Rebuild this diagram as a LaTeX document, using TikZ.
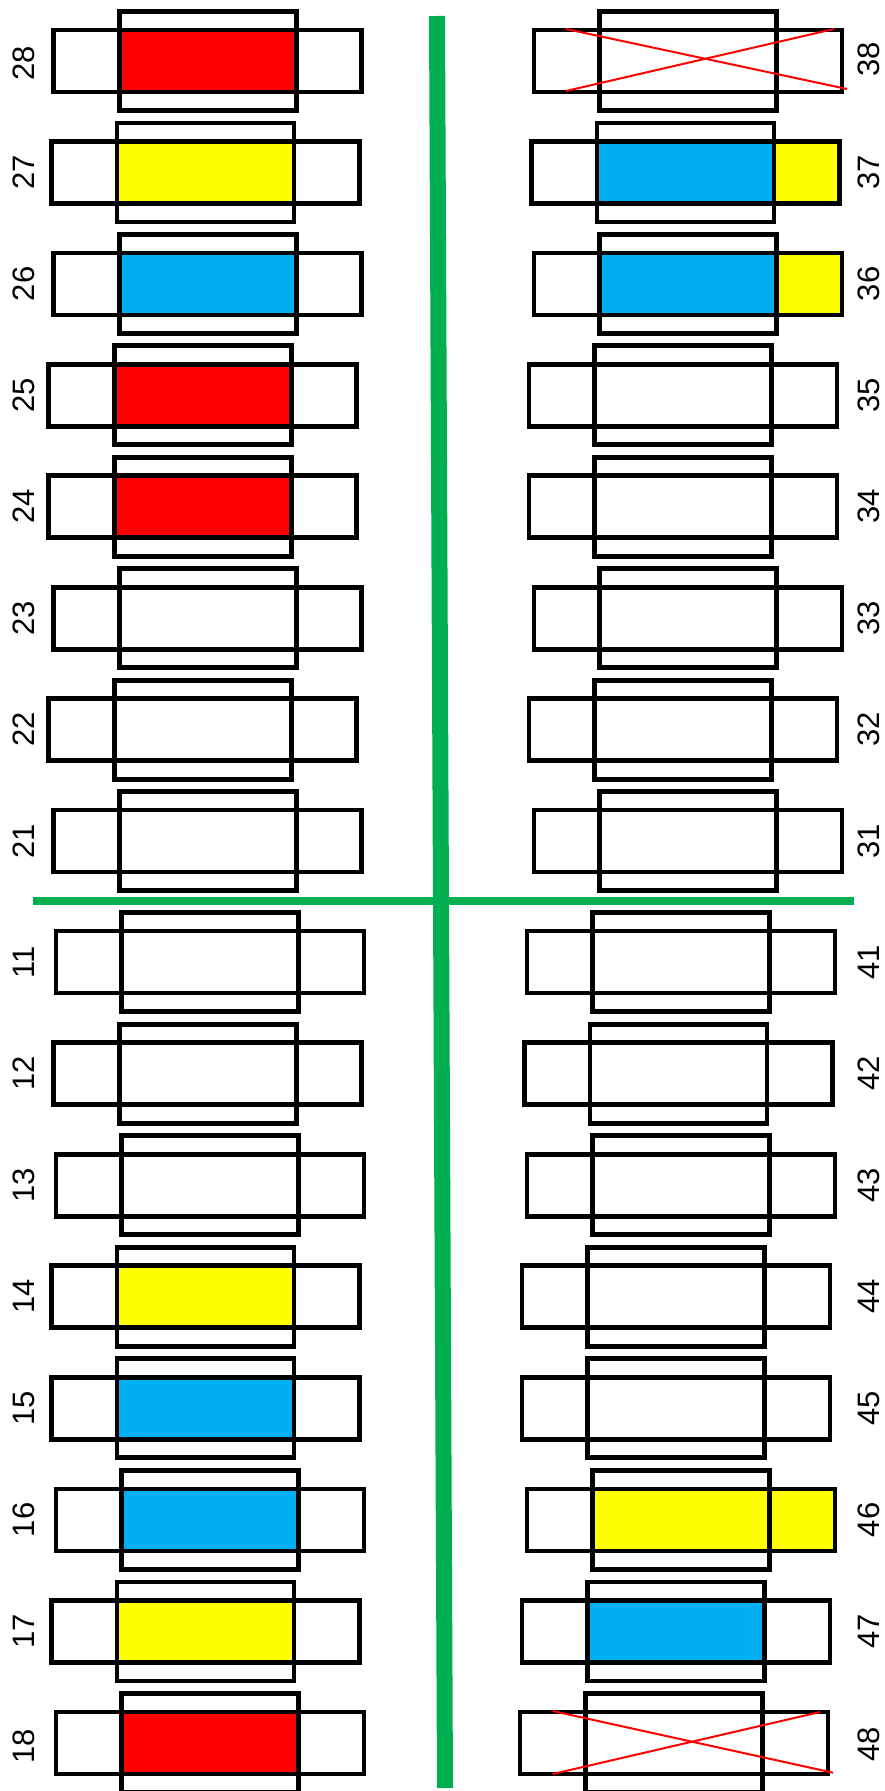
\documentclass[tikz,border=0pt]{standalone}
\usepackage{fontspec}
\setmainfont{Liberation Sans}
\definecolor{fusered}{HTML}{FF0000}
\definecolor{fuseyellow}{HTML}{FFFF00}
\definecolor{fuseblue}{HTML}{00B0F0}
\definecolor{railgreen}{HTML}{00B050}

\begin{document}
\begin{tikzpicture}[x=1pt,y=-1pt,line cap=butt,line join=miter,
  wing/.style={draw,line width=4.8pt,minimum width=308pt,minimum height=62pt,inner sep=0pt},
  body/.style={draw,line width=4.8pt,minimum width=177pt,minimum height=99pt,inner sep=0pt},
  core/.style={inner sep=0pt,minimum width=177pt,minimum height=62pt},
  tip/.style={inner sep=0pt,minimum width=65.5pt,minimum height=62pt,anchor=west},
  num/.style={rotate=90,inner sep=0pt,font=\fontsize{31}{36}\selectfont},
  cross/.style={draw=fusered,line width=2pt}]
\useasboundingbox (0,0) rectangle (884,1791);
% green rails
\coordinate (vtop) at (437,16);
\coordinate (vbot) at (445,1788);
\coordinate (hleft) at (33,901);
\coordinate (hright) at (854,901);
\draw[railgreen,line width=16pt] (vtop) -- (vbot);
\draw[railgreen,line width=8.3pt] (hleft) -- (hright);
% left, upper row
\node[core,fill=fusered] (c28) at (207.7,61) {};
\node[wing] (w28) at (c28) {};
\node[body] (b28) at (c28) {};
\node[num] (n28) at (23.5,63) {28};
\node[core,fill=fuseyellow] (c27) at (205.5,172.4) {};
\node[wing] (w27) at (c27) {};
\node[body] (b27) at (c27) {};
\node[num] (n27) at (23.5,172.4) {27};
\node[core,fill=fuseblue] (c26) at (207.7,283.9) {};
\node[wing] (w26) at (c26) {};
\node[body] (b26) at (c26) {};
\node[num] (n26) at (23.5,283.9) {26};
\node[core,fill=fusered] (c25) at (202.7,395.3) {};
\node[wing] (w25) at (c25) {};
\node[body] (b25) at (c25) {};
\node[num] (n25) at (23.5,395.3) {25};
\node[core,fill=fusered] (c24) at (202.7,506.7) {};
\node[wing] (w24) at (c24) {};
\node[body] (b24) at (c24) {};
\node[num] (n24) at (23.5,506.7) {24};
\node[wing] (w23) at (207.7,618.1) {};
\node[body] (b23) at (w23) {};
\node[num] (n23) at (23.5,618.1) {23};
\node[wing] (w22) at (202.7,729.6) {};
\node[body] (b22) at (w22) {};
\node[num] (n22) at (23.5,729.6) {22};
\node[wing] (w21) at (207.7,841) {};
\node[body] (b21) at (w21) {};
\node[num] (n21) at (23.5,841) {21};
% left, lower row
\node[wing] (w11) at (210,962) {};
\node[body] (b11) at (w11) {};
\node[num] (n11) at (23.5,962) {11};
\node[wing] (w12) at (207.7,1073.6) {};
\node[body] (b12) at (w12) {};
\node[num] (n12) at (23.5,1073.6) {12};
\node[wing] (w13) at (210,1185.1) {};
\node[body] (b13) at (w13) {};
\node[num] (n13) at (23.5,1185.1) {13};
\node[core,fill=fuseyellow] (c14) at (205.5,1296.7) {};
\node[wing] (w14) at (c14) {};
\node[body] (b14) at (c14) {};
\node[num] (n14) at (23.5,1296.7) {14};
\node[core,fill=fuseblue] (c15) at (205.5,1408.3) {};
\node[wing] (w15) at (c15) {};
\node[body] (b15) at (c15) {};
\node[num] (n15) at (23.5,1408.3) {15};
\node[core,fill=fuseblue] (c16) at (210,1519.9) {};
\node[wing] (w16) at (c16) {};
\node[body] (b16) at (c16) {};
\node[num] (n16) at (23.5,1519.9) {16};
\node[core,fill=fuseyellow] (c17) at (205.5,1631.4) {};
\node[wing] (w17) at (c17) {};
\node[body] (b17) at (c17) {};
\node[num] (n17) at (23.5,1631.4) {17};
\node[core,fill=fusered] (c18) at (210,1743) {};
\node[wing] (w18) at (c18) {};
\node[body] (b18) at (c18) {};
\node[num] (n18) at (23.5,1746) {18};
% right, upper row
\node[wing] (w38) at (688,61) {};
\node[body] (b38) at (w38) {};
\node[num] (n38) at (868.5,59) {38};
\coordinate (x38a) at (566,29);
\coordinate (x38b) at (847,89);
\coordinate (x38c) at (566,91);
\coordinate (x38d) at (834,29);
\draw[cross] (x38a) -- (x38b);
\draw[cross] (x38c) -- (x38d);
\node[core,fill=fuseblue] (c37) at (685.5,172.4) {};
\node[tip,fill=fuseyellow] (t37) at (c37.east) {};
\node[wing] (w37) at (c37) {};
\node[body] (b37) at (c37) {};
\node[num] (n37) at (868.5,172.4) {37};
\node[core,fill=fuseblue] (c36) at (688,283.9) {};
\node[tip,fill=fuseyellow] (t36) at (c36.east) {};
\node[wing] (w36) at (c36) {};
\node[body] (b36) at (c36) {};
\node[num] (n36) at (868.5,283.9) {36};
\node[wing] (w35) at (683,395.3) {};
\node[body] (b35) at (w35) {};
\node[num] (n35) at (868.5,395.3) {35};
\node[wing] (w34) at (683,506.7) {};
\node[body] (b34) at (w34) {};
\node[num] (n34) at (868.5,506.7) {34};
\node[wing] (w33) at (688,618.1) {};
\node[body] (b33) at (w33) {};
\node[num] (n33) at (868.5,618.1) {33};
\node[wing] (w32) at (683,729.6) {};
\node[body] (b32) at (w32) {};
\node[num] (n32) at (868.5,729.6) {32};
\node[wing] (w31) at (688,841) {};
\node[body] (b31) at (w31) {};
\node[num] (n31) at (868.5,841) {31};
% right, lower row
\node[wing] (w41) at (681,962) {};
\node[body] (b41) at (w41) {};
\node[num] (n41) at (868.5,962) {41};
\node[wing] (w42) at (678.5,1073.6) {};
\node[body] (b42) at (w42) {};
\node[num] (n42) at (868.5,1073.6) {42};
\node[wing] (w43) at (681,1185.1) {};
\node[body] (b43) at (w43) {};
\node[num] (n43) at (868.5,1185.1) {43};
\node[wing] (w44) at (676,1296.7) {};
\node[body] (b44) at (w44) {};
\node[num] (n44) at (868.5,1296.7) {44};
\node[wing] (w45) at (676,1408.3) {};
\node[body] (b45) at (w45) {};
\node[num] (n45) at (868.5,1408.3) {45};
\node[core,fill=fuseyellow] (c46) at (681,1519.9) {};
\node[tip,fill=fuseyellow] (t46) at (c46.east) {};
\node[wing] (w46) at (c46) {};
\node[body] (b46) at (c46) {};
\node[num] (n46) at (868.5,1519.9) {46};
\node[core,fill=fuseblue] (c47) at (676,1631.4) {};
\node[wing] (w47) at (c47) {};
\node[body] (b47) at (c47) {};
\node[num] (n47) at (868.5,1631.4) {47};
\node[wing] (w48) at (674,1743) {};
\node[body] (b48) at (w48) {};
\node[num] (n48) at (868.5,1744) {48};
\coordinate (x48a) at (552.7,1711);
\coordinate (x48b) at (833,1772.7);
\coordinate (x48c) at (552.7,1774);
\coordinate (x48d) at (820,1712);
\draw[cross] (x48a) -- (x48b);
\draw[cross] (x48c) -- (x48d);
\end{tikzpicture}
\end{document}
